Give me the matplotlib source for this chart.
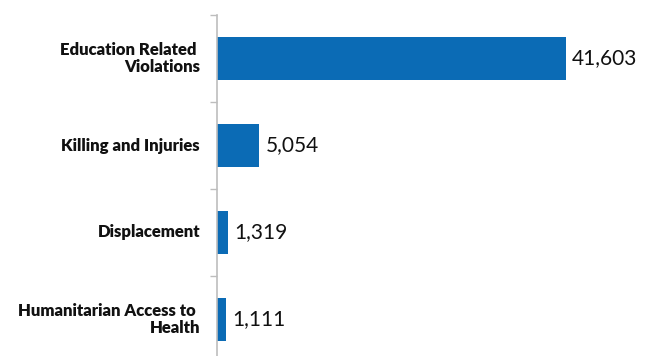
import matplotlib
matplotlib.use("Agg")
import matplotlib.pyplot as plt
from matplotlib.ticker import FixedLocator

categories = [
    "Education Related \nViolations",
    "Killing and Injuries",
    "Displacement",
    "Humanitarian Access to \nHealth",
]
values = [41603, 5054, 1319, 1111]

bar_color = "#0B6BB5"
axis_color = "#BDBDBD"

fig = plt.figure(figsize=(6.52, 3.56), dpi=100)
W, H = 652, 356
left_px, right_px = 217, 652
top_px, bottom_px = 15, 363
ax = fig.add_axes([left_px / W, 1 - bottom_px / H,
                   (right_px - left_px) / W, (bottom_px - top_px) / H])

n = len(categories)
ypos = list(range(n))
ax.barh(ypos, values, height=0.5, color=bar_color, zorder=2)

ax.set_ylim(n - 0.5, -0.5)
xmax = 41603 * (right_px - left_px) / 349
ax.set_xlim(0, xmax)

for y, v in zip(ypos, values):
    ax.text(v + xmax * 0.014, y, f"{v:,}", va="center", ha="left",
            fontsize=15, family="Lato", color="#111111")

for y, c in zip(ypos, categories):
    ax.text(-xmax * 0.039, y, c, va="center", ha="right", fontsize=12,
            family="Lato", fontweight="heavy", color="#111111",
            multialignment="right", linespacing=1.1,
            transform=ax.transData, clip_on=False)

ax.set_yticks([])
ax.yaxis.set_minor_locator(FixedLocator([i - 0.5 for i in range(n + 1)]))
ax.tick_params(axis="y", which="minor", length=5, width=1, color=axis_color,
               direction="out", left=True, labelleft=False)
ax.set_xticks([])

for s in ["top", "right", "bottom"]:
    ax.spines[s].set_visible(False)
ax.spines["left"].set_color(axis_color)
ax.spines["left"].set_linewidth(1.2)

fig.savefig("out.png", dpi=100)
